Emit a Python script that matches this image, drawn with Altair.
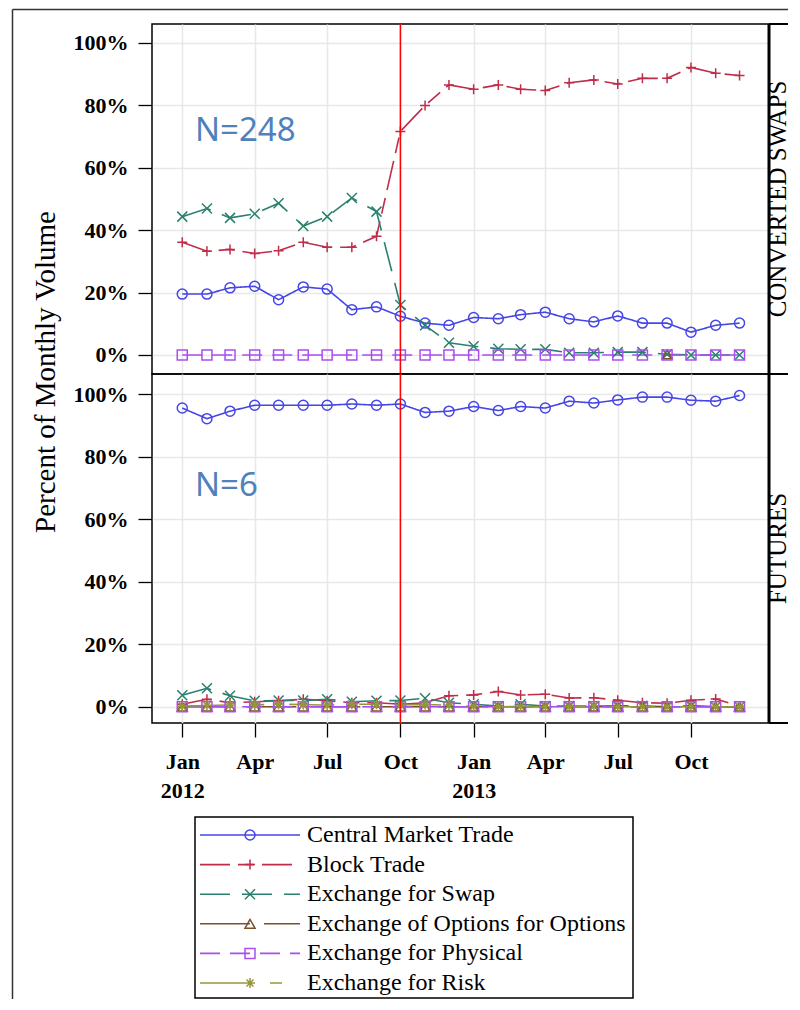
import altair as alt
import pandas as pd

# ---------------- data ----------------
months = ["2012-01-01", "2012-02-01", "2012-03-01", "2012-04-01", "2012-05-01", "2012-06-01",
          "2012-07-01", "2012-08-01", "2012-09-01", "2012-10-01", "2012-11-01", "2012-12-01",
          "2013-01-01", "2013-02-01", "2013-03-01", "2013-04-01", "2013-05-01", "2013-06-01",
          "2013-07-01", "2013-08-01", "2013-09-01", "2013-10-01", "2013-11-01", "2013-12-01"]

series = ["Central Market Trade", "Block Trade", "Exchange for Swap",
          "Exchange of Options for Options", "Exchange for Physical", "Exchange for Risk"]
colors = ["#4646e6", "#bf2d4a", "#2a806e", "#7d5128", "#a94ff0", "#96963c"]
dashes = [[1, 0], [30, 8, 16, 8], [30, 12], [50, 14], [20, 10], [45, 25, 12, 25]]
shapes = ["circle", "M-1,0L1,0M0,-1L0,1", "M-1,-1L1,1M-1,1L1,-1", "triangle-up", "square",
          "M-1,0L1,0M0,-1L0,1M-0.7,-0.7L0.7,0.7M-0.7,0.7L0.7,-0.7"]

panel_names = ["CONVERTED SWAPS", "FUTURES"]
n_labels = ["N=248", "N=6"]
event_month = ["2012-10-01"]
y_title = "Percent of Monthly Volume"
y_ticks = [0, 20, 40, 60, 80, 100]
tick_months = [(2012, 1), (2012, 4), (2012, 7), (2012, 10), (2013, 1), (2013, 4), (2013, 7), (2013, 10)]

# CONVERTED SWAPS panel
sw_central = [19.5, 19.5, 21.5, 22.0, 17.7, 21.8, 21.1, 14.5, 15.4, 12.4, 10.2, 9.5,
              12.0, 11.6, 12.9, 13.7, 11.6, 10.6, 12.5, 10.2, 10.2, 7.3, 9.5, 10.2]
sw_block = [36.1, 33.2, 33.8, 32.5, 33.4, 36.1, 34.5, 34.5, 38.0, 71.6, 79.9, 86.5,
            85.1, 86.5, 85.1, 84.7, 87.2, 88.1, 86.8, 88.6, 88.6, 92.1, 90.2, 89.5]
sw_swap = [44.3, 46.9, 43.9, 45.2, 48.6, 41.3, 44.3, 50.3, 45.9, 16.0, 9.5, 3.9,
           2.8, 2.0, 1.8, 1.8, 0.7, 0.7, 0.9, 0.9, 0.2, 0.0, 0.0, 0.0]
sw_eoo = [None, None, None, None, None, None, None, None, None, None, None, None,
          None, None, None, None, None, None, None, None, 0.2, None, None, None]
sw_physical = [0.0, 0.0, 0.0, 0.0, 0.0, 0.0, 0.0, 0.0, 0.0, 0.0, 0.0, 0.0,
               0.0, 0.0, 0.0, 0.0, 0.0, 0.0, 0.0, 0.0, 0.0, 0.0, 0.0, 0.0]
sw_risk = [None, None, None, None, None, None, None, None, None, None, None, None,
           None, None, None, None, None, None, None, None, None, None, None, None]

# FUTURES panel
fu_central = [95.6, 92.2, 94.6, 96.5, 96.5, 96.5, 96.5, 96.9, 96.5, 96.9, 94.2, 94.6,
              96.1, 94.8, 96.1, 95.6, 97.8, 97.2, 98.2, 99.1, 99.1, 98.1, 97.8, 99.6]
fu_block = [0.8, 2.4, 1.3, 1.6, 1.9, 2.4, 1.9, 1.3, 1.3, 0.8, 1.3, 3.5,
            3.8, 4.9, 3.8, 4.0, 2.8, 2.9, 2.1, 1.3, 1.1, 2.1, 2.5, 0.2]
fu_swap = [3.7, 5.9, 3.5, 1.9, 2.0, 2.0, 2.4, 1.6, 1.9, 2.0, 2.7, 1.3,
           0.8, 0.2, 0.8, 0.2, 0.2, 0.2, 0.3, 0.3, 0.0, 0.4, 0.0, 0.0]
fu_eoo = [0.0, 0.0, 0.0, 0.0, 0.0, 0.0, 0.0, 0.0, 0.0, 0.0, 0.0, 0.0,
          0.0, 0.0, 0.0, 0.0, 0.0, 0.0, 0.0, 0.0, 0.0, 0.0, 0.0, 0.0]
fu_physical = [0.0, 0.0, 0.0, 0.0, 0.0, 0.0, 0.0, 0.0, 0.0, 0.0, 0.0, 0.0,
               0.0, 0.0, 0.0, 0.0, 0.0, 0.0, 0.0, 0.0, 0.0, 0.0, 0.0, 0.0]
fu_risk = [0.2, 0.4, 0.6, 0.6, 0.8, 0.7, 0.5, 0.8, 0.8, 0.6, 0.7, 0.5,
           0.1, 0.0, 0.1, 0.0, 0.0, 0.3, 0.0, 0.0, 0.0, 0.0, 0.0, 0.0]

SERIF = "Liberation Serif"
W = 617
STRIP_END = 636


def long_df(values_by_series):
    rows = []
    for s, vals in zip(series, values_by_series):
        for m, v in zip(months, vals):
            if v is not None:
                rows.append({"month": m, "series": s, "value": v})
    return pd.DataFrame(rows)


df_sw = long_df([sw_central, sw_block, sw_swap, sw_eoo, sw_physical, sw_risk])
df_fu = long_df([fu_central, fu_block, fu_swap, fu_eoo, fu_physical, fu_risk])
one = pd.DataFrame({"k": [0]})

color_enc = alt.Color("series:N", scale=alt.Scale(domain=series, range=colors), legend=None)
shape_enc = alt.Shape("series:N", scale=alt.Scale(domain=series, range=shapes), legend=None)
dash_enc = alt.StrokeDash("series:N", scale=alt.Scale(domain=series, range=dashes), legend=None)

x_scale = alt.Scale(type="utc", domain=[alt.DateTime(year=2011, month=11, date=24, utc=True),
                                        alt.DateTime(year=2014, month=1, date=7, utc=True)])
x_values = [alt.DateTime(year=y, month=m, date=1, utc=True) for y, m in tick_months]
label_expr = ("utcmonth(datum.value) == 0 ? [utcFormat(datum.value, '%b'), utcFormat(datum.value, '%Y')]"
              " : utcFormat(datum.value, '%b')")


def panel(df, idx, y_domain, h, show_x):
    xaxis = alt.Axis(values=x_values, grid=True, gridColor="#e8e8e8", gridWidth=1.5, domain=False,
                     labels=show_x, ticks=show_x, tickSize=14, tickColor="black", tickWidth=1.3,
                     labelExpr=label_expr, labelFont=SERIF, labelFontSize=22, labelFontWeight="bold",
                     labelColor="black", labelPadding=14, labelLineHeight=29, title=None)
    yaxis = alt.Axis(values=y_ticks, labelExpr="datum.value + '%'", grid=True, gridColor="#e8e8e8",
                     gridWidth=1.5, domain=False, tickSize=14, tickColor="black", tickWidth=1.3,
                     labelFont=SERIF, labelFontSize=22, labelFontWeight="bold", labelColor="black",
                     labelPadding=10, title=None)
    x = alt.X("month:T", scale=x_scale, axis=xaxis)
    y = alt.Y("value:Q", scale=alt.Scale(domain=y_domain, nice=False, zero=False), axis=yaxis)
    base = alt.Chart(df)
    lines = base.mark_line(strokeWidth=1.6).encode(x=x, y=y, color=color_enc, strokeDash=dash_enc)
    points = base.mark_point(filled=False, size=100, strokeWidth=1.5, opacity=1).encode(
        x=x, y=y, color=color_enc, shape=shape_enc)
    event = alt.Chart(pd.DataFrame({"month": event_month})).mark_rule(
        color="#ff0000", strokeWidth=1.5).encode(x=alt.X("month:T"))
    ntext = alt.Chart(pd.DataFrame({"label": [n_labels[idx]]})).mark_text(
        font="Noto Sans", fontSize=33, color="#4f81bd", align="left", baseline="middle").encode(
        x=alt.value(43), y=alt.value(107 if idx == 0 else 112), text="label:N")
    strip = alt.Chart(pd.DataFrame({"label": [panel_names[idx]]})).mark_text(
        font=SERIF, fontSize=25, angle=270, align="center", baseline="middle", color="black").encode(
        x=alt.value(626), y=alt.value(h / 2), text="label:N")
    right_bar = alt.Chart(one).mark_rule(color="black", strokeWidth=3).encode(
        x=alt.value(W), y=alt.value(0), y2=alt.value(h))
    strip_top = alt.Chart(one).mark_rule(color="black", strokeWidth=2).encode(
        x=alt.value(W), x2=alt.value(STRIP_END), y=alt.value(0))
    strip_bot = alt.Chart(one).mark_rule(color="black", strokeWidth=2).encode(
        x=alt.value(W), x2=alt.value(STRIP_END), y=alt.value(h))
    layers = [lines, points, event, ntext, strip, right_bar, strip_top, strip_bot]
    if idx == 0:
        ytitle = alt.Chart(pd.DataFrame({"t": [y_title]})).mark_text(
            font=SERIF, fontSize=29, angle=270, align="center", baseline="middle", color="black").encode(
            x=alt.value(-106), y=alt.value(348), text="t:N")
        frame_top = alt.Chart(one).mark_rule(color="#333333", strokeWidth=1.5).encode(
            x=alt.value(-139.5), x2=alt.value(STRIP_END), y=alt.value(-14.5))
        frame_left = alt.Chart(one).mark_rule(color="#333333", strokeWidth=1.5).encode(
            x=alt.value(-139.5), y=alt.value(-14.5), y2=alt.value(975))
        layers += [ytitle, frame_top, frame_left]
    return alt.layer(*layers).properties(width=W, height=h)


top = panel(df_sw, 0, [-6.1, 106.0], 350, False)
bottom = panel(df_fu, 1, [-5.2, 106.5], 349, True)

# ---------------- legend ----------------
df_leg = pd.DataFrame({"series": series, "idx": list(range(len(series)))})
ly = alt.Y("idx:Q", scale=alt.Scale(domain=[0, 5], range=[112, 260]), axis=None)
leg_box = alt.Chart(one).mark_rect(fill="white", stroke="black", strokeWidth=1.5).encode(
    x=alt.value(43), x2=alt.value(481), y=alt.value(94), y2=alt.value(275))
leg_lines = alt.Chart(df_leg).mark_rule(strokeWidth=1.6).encode(
    x=alt.value(48), x2=alt.value(148), y=ly, color=color_enc, strokeDash=dash_enc)
leg_pts = alt.Chart(df_leg).mark_point(filled=False, size=100, strokeWidth=1.5, opacity=1).encode(
    x=alt.value(98), y=ly, color=color_enc, shape=shape_enc)
leg_txt = alt.Chart(df_leg).mark_text(font=SERIF, fontSize=24, align="left", baseline="middle",
                                      color="black").encode(x=alt.value(155), y=ly, text="series:N")
legend = alt.layer(leg_box, leg_lines, leg_pts, leg_txt).properties(
    width=W, height=276, view=alt.ViewBackground(stroke="transparent"))

chart = alt.vconcat(top, bottom, legend, spacing=0, bounds="flush").resolve_scale(
    y="independent").properties(
    padding={"left": 3, "top": 0, "right": 0, "bottom": 0}, background="white").configure_view(
    stroke="black", strokeWidth=1.5)

chart.save("out.html", embed_options={"renderer": "svg", "actions": False})
